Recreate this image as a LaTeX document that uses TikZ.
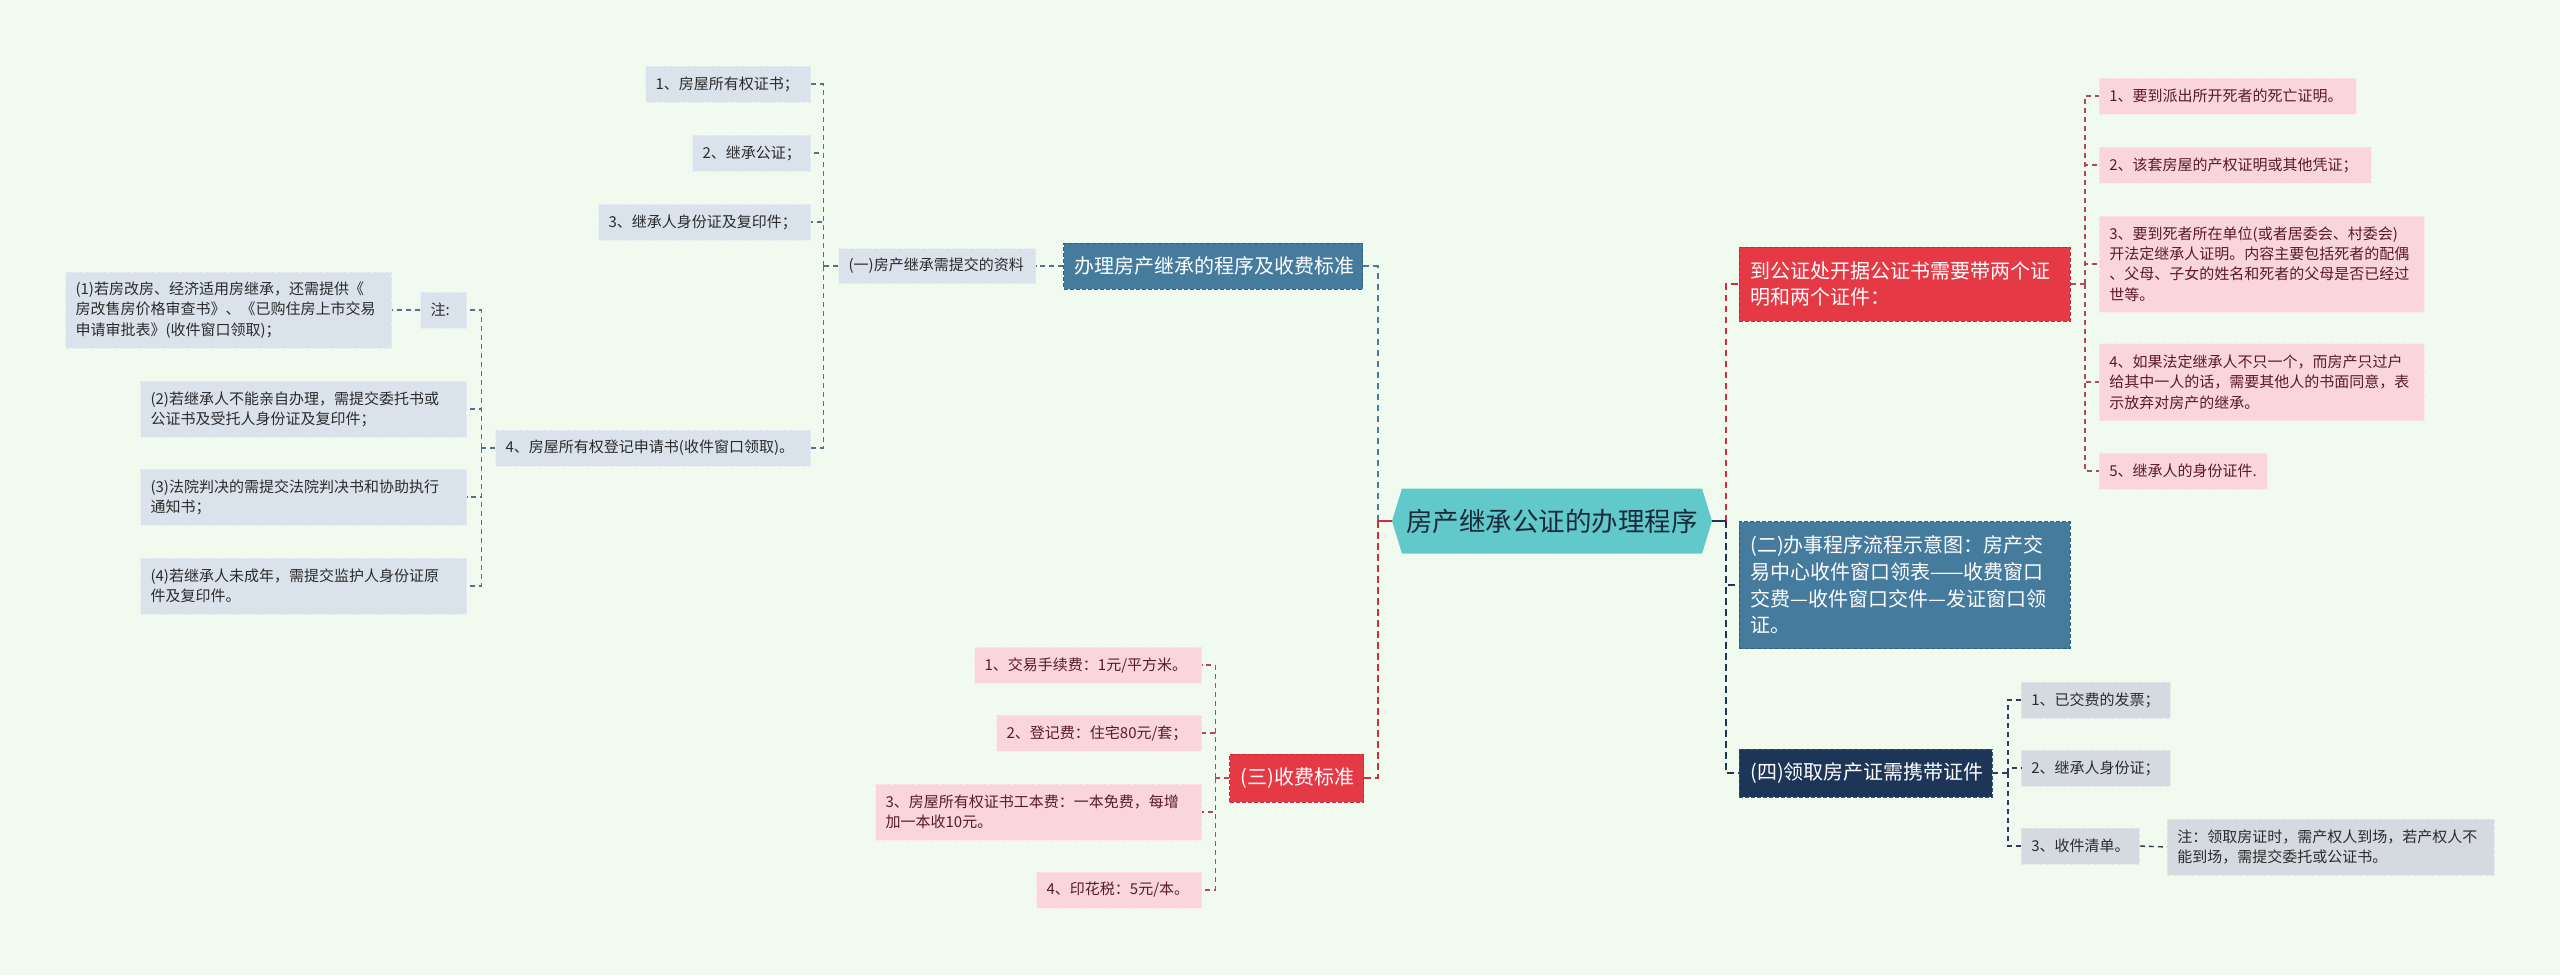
\documentclass[tikz,border=0pt]{standalone}
\usepackage{fontspec}
\setmainfont{Noto Sans CJK SC}
\usetikzlibrary{shapes.symbols}
\definecolor{bgc}{HTML}{F1FAEE}
\definecolor{leafBf}{HTML}{DAE3EC}
\definecolor{leafBd}{HTML}{E6EDF3}
\definecolor{leafPf}{HTML}{FAD6DC}
\definecolor{leafPd}{HTML}{FCE6EA}
\definecolor{leafGf}{HTML}{D5D9E0}
\definecolor{leafGd}{HTML}{E3E6EB}
\definecolor{txtD}{HTML}{2B2B2B}
\definecolor{txtP}{HTML}{5A1A26}
\definecolor{mainf}{HTML}{62C9CB}
\definecolor{maint}{HTML}{1B2A3A}
\definecolor{blueB}{HTML}{457B9D}
\definecolor{blueBd}{HTML}{2F6184}
\definecolor{redB}{HTML}{E63946}
\definecolor{redBd}{HTML}{C42A38}
\definecolor{navyB}{HTML}{1D3557}
\definecolor{navyBd}{HTML}{34507A}
\definecolor{lnB}{HTML}{51718C}
\definecolor{lnR}{HTML}{B4475A}
\definecolor{lnD}{HTML}{2C3E58}
\definecolor{mlR}{HTML}{CC2E3E}
\tikzset{
  leaf/.style={font=\fontsize{15}{20.3}\selectfont, inner xsep=10pt, inner ysep=0pt,
    align=left, dash pattern=on 4pt off 2pt, line width=0.8pt, minimum height=36pt},
  leafB/.style={leaf, fill=leafBf, draw=leafBd, text=txtD},
  leafP/.style={leaf, fill=leafPf, draw=leafPd, text=txtP},
  leafG/.style={leaf, fill=leafGf, draw=leafGd, text=txtD},
  branch/.style={font=\fontsize{20}{26.7}\selectfont, inner xsep=11pt, inner ysep=0pt,
    align=left, dash pattern=on 4pt off 2pt, line width=0.8pt, text=white, minimum height=47pt},
  brB/.style={branch, fill=blueB, draw=blueBd},
  brR/.style={branch, fill=redB, draw=redBd},
  brN/.style={branch, fill=navyB, draw=navyBd},
  link/.style={line width=1.4pt, dash pattern=on 5pt off 4pt},
  linkB/.style={link, draw=lnB},
  linkR/.style={link, draw=lnR},
  linkD/.style={link, draw=lnD},
  mlink/.style={line width=2.2pt, dash pattern=on 6.5pt off 4.5pt},
  stem/.style={line width=2.2pt},
}
\begin{document}
\begin{tikzpicture}[x=1pt,y=-1pt]
\fill[bgc] (0,0) rectangle (2560,975);
\useasboundingbox (0,0) rectangle (2560,975);

% central node
\node[shape=signal, signal to=west and east, signal pointer angle=146, fill=mainf,
  minimum width=320pt, minimum height=65pt, inner sep=0pt, text=maint,
  font=\fontsize{26.5}{30}\selectfont] (main) at (1552,521) {房产继承公证的办理程序};

% left upper branch
\node[brB, text width=277pt, minimum height=46pt, anchor=east] (banli) at (1363,266) {办理房产继承的程序及收费标准};
\node[leafB, text width=177pt, minimum height=35pt, anchor=east] (yi) at (1036,266) {(一)房产继承需提交的资料};
\node[leafB, text width=145pt, anchor=east] (l1) at (811,84) {1、房屋所有权证书；};
\node[leafB, text width=98pt, anchor=east] (l2) at (811,153) {2、继承公证；};
\node[leafB, text width=192pt, anchor=east] (l3) at (811,222) {3、继承人身份证及复印件；};
\node[leafB, text width=295pt, anchor=east] (l4) at (811,448) {4、房屋所有权登记申请书(收件窗口领取)。};
\node[leafB, text width=26pt, anchor=east] (zhu) at (467,310) {注:};
\node[leafB, text width=306pt, minimum height=76pt, anchor=east] (n1) at (392,310) {(1)若房改房、经济适用房继承，还需提供《\\房改售房价格审查书》、《已购住房上市交易\\申请审批表》(收件窗口领取)；};
\node[leafB, text width=306pt, minimum height=56pt, anchor=east] (n2) at (467,409) {(2)若继承人不能亲自办理，需提交委托书或\\公证书及受托人身份证及复印件；};
\node[leafB, text width=306pt, minimum height=56pt, anchor=east] (n3) at (467,497) {(3)法院判决的需提交法院判决书和协助执行\\通知书；};
\node[leafB, text width=306pt, minimum height=56pt, anchor=east] (n4) at (467,586) {(4)若继承人未成年，需提交监护人身份证原\\件及复印件。};

% left lower branch
\node[brR, text width=112pt, minimum height=48pt, anchor=east] (san) at (1364,778) {(三)收费标准};
\node[leafP, text width=207pt, anchor=east] (c1) at (1202,665) {1、交易手续费：1元/平方米。};
\node[leafP, text width=185pt, anchor=east] (c2) at (1202,733) {2、登记费：住宅80元/套；};
\node[leafP, text width=306pt, minimum height=56pt, anchor=east] (c3) at (1202,812) {3、房屋所有权证书工本费：一本免费，每增\\加一本收10元。};
\node[leafP, text width=145pt, anchor=east] (c4) at (1202,890) {4、印花税：5元/本。};

% right upper branch
\node[brR, text width=309pt, minimum height=74pt, anchor=west] (gz) at (1739,284) {到公证处开据公证书需要带两个证\\明和两个证件：};
\node[leafP, text width=237pt, anchor=west] (r1) at (2099,96) {1、要到派出所开死者的死亡证明。};
\node[leafP, text width=252pt, anchor=west] (r2) at (2099,165) {2、该套房屋的产权证明或其他凭证；};
\node[leafP, text width=305pt, minimum height=96pt, anchor=west] (r3) at (2099,264) {3、要到死者所在单位(或者居委会、村委会)\\开法定继承人证明。内容主要包括死者的配偶\\、父母、子女的姓名和死者的父母是否已经过\\世等。};
\node[leafP, text width=305pt, minimum height=77pt, anchor=west] (r4) at (2099,382) {4、如果法定继承人不只一个，而房产只过户\\给其中一人的话，需要其他人的书面同意，表\\示放弃对房产的继承。};
\node[leafP, text width=148pt, anchor=west] (r5) at (2099,471) {5、继承人的身份证件.};

% right lower branches
\node[brB, text width=309pt, minimum height=127pt, anchor=west] (er) at (1739,585) {(二)办事程序流程示意图：房产交\\易中心收件窗口领表——收费窗口\\交费—收件窗口交件—发证窗口领\\证。};
\node[brN, text width=231pt, minimum height=48pt, anchor=west] (si) at (1739,773) {(四)领取房产证需携带证件};
\node[leafG, text width=129pt, anchor=west] (f1) at (2021,700) {1、已交费的发票；};
\node[leafG, text width=129pt, anchor=west] (f2) at (2021,768) {2、继承人身份证；};
\node[leafG, text width=98pt, anchor=west] (f3) at (2021,846) {3、收件清单。};
\node[leafG, text width=307pt, minimum height=56pt, anchor=west] (fn) at (2167,847) {注：领取房证时，需产权人到场，若产权人不\\能到场，需提交委托或公证书。};

% main connectors
\coordinate (mL) at ([xshift=-14pt]main.west);
\coordinate (mR) at ([xshift=14pt]main.east);
\draw[mlink, draw=blueB] (mL) |- (banli.east);
\draw[mlink, draw=mlR] (mL) |- (san.east);
\draw[mlink, draw=mlR] (mR) |- (gz.west);
\draw[mlink, draw=navyB] (mR) |- (er.west);
\draw[mlink, draw=navyB] (mR) |- (si.west);
\draw[stem, draw=mlR] (main.west) -- (mL);
\draw[stem, draw=navyB] (main.east) -- (mR);

% left upper
\draw[linkB] (banli.west) -- (yi.east);
\coordinate (s1) at ([xshift=-15pt]yi.west);
\draw[linkB] (yi.west) -- (s1);
\draw[linkB] (s1) |- (l1.east);
\draw[linkB] (s1) |- (l2.east);
\draw[linkB] (s1) |- (l3.east);
\draw[linkB] (s1) |- (l4.east);
\coordinate (s2) at ([xshift=-14pt]l4.west);
\draw[linkB] (l4.west) -- (s2);
\draw[linkB] (s2) |- (zhu.east);
\draw[linkB] (s2) |- (n2.east);
\draw[linkB] (s2) |- (n3.east);
\draw[linkB] (s2) |- (n4.east);
\draw[linkB] (zhu.west) -- (n1.east);

% left lower
\coordinate (s4) at ([xshift=-14pt]san.west);
\draw[linkR] (san.west) -- (s4);
\draw[linkR] (s4) |- (c1.east);
\draw[linkR] (s4) |- (c2.east);
\draw[linkR] (s4) |- (c3.east);
\draw[linkR] (s4) |- (c4.east);

% right upper
\coordinate (s3) at ([xshift=14pt]gz.east);
\draw[linkR] (gz.east) -- (s3);
\draw[linkR] (s3) |- (r1.west);
\draw[linkR] (s3) |- (r2.west);
\draw[linkR] (s3) |- (r3.west);
\draw[linkR] (s3) |- (r4.west);
\draw[linkR] (s3) |- (r5.west);

% right lower
\coordinate (s5) at ([xshift=15pt]si.east);
\draw[linkD] (si.east) -- (s5);
\draw[linkD] (s5) |- (f1.west);
\draw[linkD] (s5) |- (f2.west);
\draw[linkD] (s5) |- (f3.west);
\draw[linkD] (f3.east) -- (fn.west);
\end{tikzpicture}
\end{document}
